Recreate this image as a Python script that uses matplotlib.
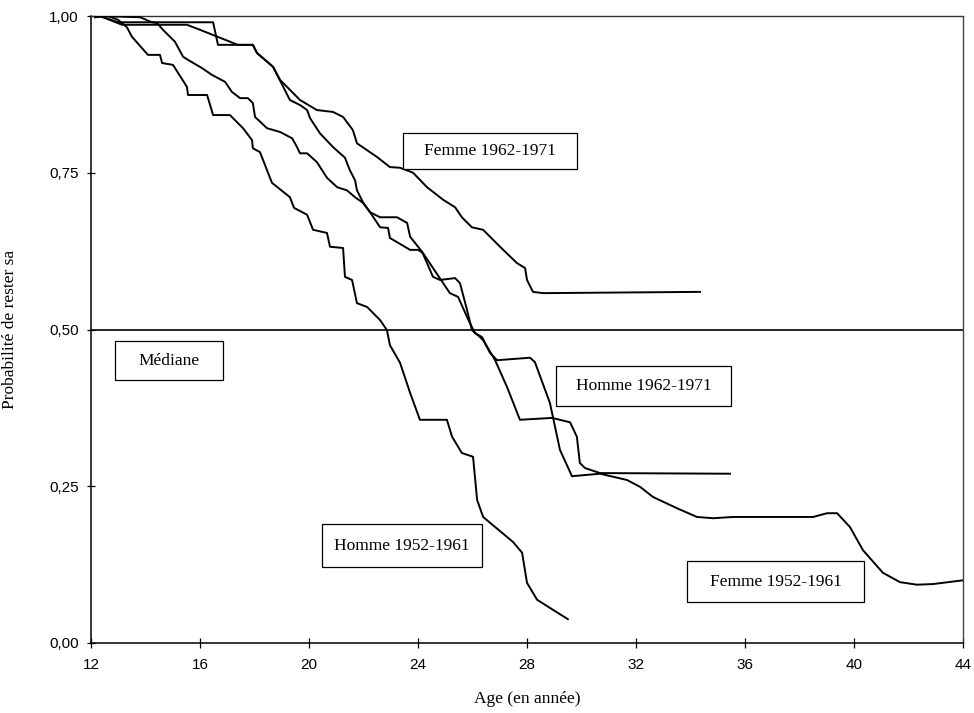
import matplotlib
matplotlib.use("Agg")
import matplotlib.pyplot as plt
from matplotlib.patches import Rectangle

# Survival curves: probability of remaining in the state, by age
age_h52 = [12.15, 12.62, 12.99, 13.32, 13.50, 14.09, 14.53, 14.61, 15.01, 15.52,
           15.56, 16.26, 16.48, 17.10, 17.58, 17.91, 17.94, 18.20, 18.64, 19.30,
           19.45, 19.93, 20.15, 20.66, 20.77, 21.25, 21.32, 21.58, 21.76, 22.13,
           22.61, 22.86, 22.97, 23.34, 23.71, 24.07, 25.06, 25.25, 25.61, 26.02,
           26.17, 26.39, 27.49, 27.82, 28.00, 28.37, 28.95, 29.50]
prob_h52 = [0.998, 1.000, 0.994, 0.982, 0.967, 0.938, 0.938, 0.925, 0.922, 0.887,
            0.874, 0.874, 0.842, 0.842, 0.821, 0.802, 0.789, 0.783, 0.734, 0.711,
            0.694, 0.683, 0.659, 0.654, 0.632, 0.630, 0.584, 0.579, 0.542, 0.536,
            0.515, 0.499, 0.475, 0.447, 0.399, 0.356, 0.356, 0.329, 0.303, 0.297,
            0.228, 0.201, 0.161, 0.144, 0.096, 0.069, 0.053, 0.038]

age_h62 = [12.33, 13.80, 14.24, 14.42, 14.64, 15.08, 15.38, 15.56, 16.07, 16.44,
           16.92, 17.17, 17.47, 17.76, 17.94, 18.02, 18.46, 18.94, 19.38, 19.56,
           19.67, 19.93, 20.29, 20.66, 21.03, 21.39, 21.69, 21.98, 22.24, 22.61,
           23.23, 23.60, 23.71, 24.15, 24.55, 24.81, 25.36, 25.54, 25.80, 25.98,
           26.20, 26.39, 26.83, 27.27, 27.74, 28.92, 29.58, 29.83, 29.94, 30.13,
           30.68, 35.45]
prob_h62 = [1.000, 0.998, 0.990, 0.989, 0.978, 0.959, 0.935, 0.930, 0.917, 0.906,
            0.895, 0.879, 0.869, 0.869, 0.861, 0.839, 0.821, 0.815, 0.805, 0.791,
            0.781, 0.781, 0.767, 0.742, 0.727, 0.722, 0.711, 0.702, 0.687, 0.679,
            0.679, 0.670, 0.648, 0.624, 0.584, 0.579, 0.582, 0.574, 0.531, 0.499,
            0.491, 0.483, 0.451, 0.408, 0.356, 0.359, 0.352, 0.329, 0.287, 0.279,
            0.271, 0.270]

age_f52 = [12.33, 13.14, 15.52, 16.00, 17.39, 17.94, 18.09, 18.68, 19.30, 19.67,
           19.93, 20.04, 20.40, 20.88, 21.32, 21.50, 21.69, 21.76, 21.98, 22.24,
           22.61, 22.90, 22.97, 23.71, 24.00, 24.18, 25.17, 25.47, 25.80, 25.91,
           26.09, 26.35, 26.64, 26.90, 28.11, 28.29, 28.84, 29.21, 29.65, 30.68,
           31.67, 32.15, 32.62, 33.50, 34.24, 34.83, 35.56, 38.50, 39.01, 39.38,
           39.85, 40.33, 41.06, 41.69, 42.31, 42.90, 44.00]
prob_f52 = [1.000, 0.986, 0.986, 0.978, 0.954, 0.954, 0.941, 0.919, 0.866, 0.858,
            0.850, 0.837, 0.813, 0.791, 0.774, 0.754, 0.738, 0.722, 0.703, 0.687,
            0.663, 0.662, 0.646, 0.627, 0.627, 0.622, 0.558, 0.552, 0.520, 0.510,
            0.494, 0.488, 0.463, 0.451, 0.455, 0.448, 0.383, 0.308, 0.266, 0.270,
            0.260, 0.249, 0.233, 0.215, 0.201, 0.199, 0.201, 0.201, 0.207, 0.207,
            0.185, 0.148, 0.112, 0.097, 0.093, 0.094, 0.100]

age_f62 = [12.33, 12.99, 16.48, 16.66, 17.94, 18.09, 18.68, 18.94, 19.67, 20.29,
           20.88, 21.25, 21.61, 21.76, 22.50, 22.97, 23.34, 23.82, 24.33, 24.92,
           25.36, 25.61, 25.98, 26.39, 27.01, 27.63, 27.93, 28.00, 28.22, 28.59,
           34.35]
prob_f62 = [1.000, 0.990, 0.990, 0.954, 0.954, 0.941, 0.919, 0.898, 0.866, 0.850,
            0.847, 0.839, 0.818, 0.797, 0.775, 0.759, 0.758, 0.750, 0.727, 0.707,
            0.695, 0.679, 0.663, 0.659, 0.632, 0.606, 0.598, 0.579, 0.560, 0.558,
            0.560]

median = 0.5

x_ticks = [12, 16, 20, 24, 28, 32, 36, 40, 44]
y_ticks = [0.0, 0.25, 0.5, 0.75, 1.0]
y_tick_labels = ["0,00", "0,25", "0,50", "0,75", "1,00"]

# Boxed labels: text and box extent (x0, x1, y0, y1) in data units
labels = ["Femme 1962-1971", "Médiane", "Homme 1962-1971", "Homme 1952-1961", "Femme 1952-1961"]
label_boxes = [
    (23.45, 29.83, 0.756, 0.813),
    (12.88, 16.84, 0.419, 0.482),
    (29.06, 35.49, 0.378, 0.442),
    (20.48, 26.35, 0.121, 0.190),
    (33.87, 40.37, 0.065, 0.131),
]

serif = ["Liberation Serif", "DejaVu Serif"]
sans = ["Liberation Sans", "DejaVu Sans"]

fig = plt.figure(figsize=(9.74, 7.13), dpi=100)
ax = fig.add_axes([91 / 974, 70 / 713, (963 - 91) / 974, (643 - 16) / 713])

lw = 1.4
for a, p in [(age_h52, prob_h52), (age_h62, prob_h62), (age_f52, prob_f52), (age_f62, prob_f62)]:
    ax.plot(a, p, color="black", lw=lw, solid_joinstyle="round", zorder=3)

ax.axhline(median, color="black", lw=1.2, zorder=2)

for text, (x0, x1, y0, y1) in zip(labels, label_boxes):
    ax.add_patch(Rectangle((x0, y0), x1 - x0, y1 - y0, facecolor="white",
                           edgecolor="black", lw=0.9, zorder=4))
    ax.text((x0 + x1) / 2, (y0 + y1) / 2, text, ha="center", va="center",
            fontsize=12.5, family=serif, zorder=5)

ax.set_xlim(12, 44)
ax.set_ylim(0, 1)
ax.set_xticks(x_ticks)
ax.set_xticklabels([str(t) for t in x_ticks], family=sans, fontsize=11)
ax.set_yticks(y_ticks)
ax.set_yticklabels(y_tick_labels, family=sans, fontsize=11)
ax.tick_params(axis="x", direction="inout", length=7, width=0.9, pad=7)
ax.tick_params(axis="y", direction="inout", length=6, width=0.9, pad=6)

for side in ["left", "bottom"]:
    ax.spines[side].set_linewidth(1.1)
ax.spines["top"].set_color("#333333")
ax.spines["top"].set_linewidth(1.0)
ax.spines["right"].set_color("#444444")
ax.spines["right"].set_linestyle((0, (1, 1)))
ax.spines["right"].set_linewidth(1.0)

ax.set_xlabel("Age (en année)", family=serif, fontsize=12.5, labelpad=14)
ax.set_ylabel("Probabilité de rester sa", family=serif, fontsize=12.5, labelpad=22)

fig.savefig("out.png", dpi=100)
